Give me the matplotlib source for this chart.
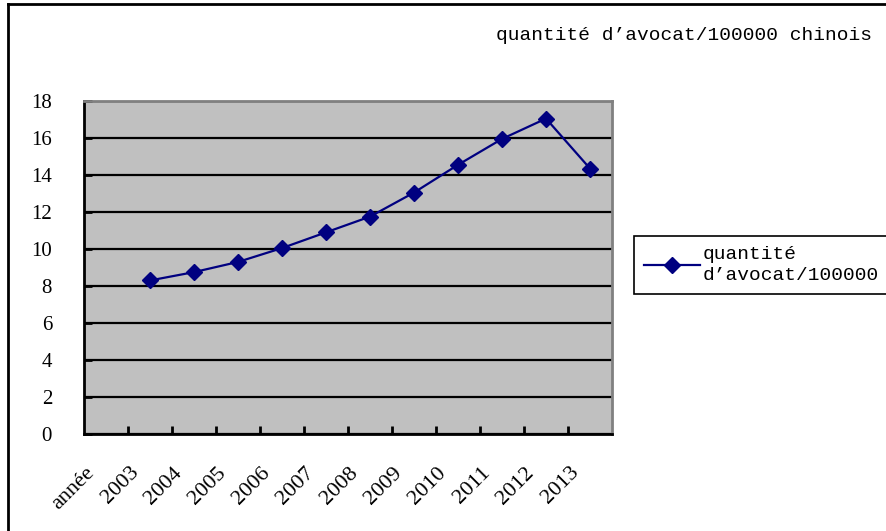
import numpy as np
import matplotlib.pyplot as plt
from matplotlib.transforms import ScaledTranslation
from matplotlib.lines import Line2D

# Données
categories = ['année', '2003', '2004', '2005', '2006', '2007', '2008',
              '2009', '2010', '2011', '2012', '2013']
annees = ['2003', '2004', '2005', '2006', '2007', '2008',
          '2009', '2010', '2011', '2012', '2013']
quantite = [8.3, 8.75, 9.3, 10.05, 10.9, 11.75, 13.05, 14.55, 15.95, 17.05, 14.35]

titre = 'quantité d’avocat/100000 chinois'
legende = 'quantité\nd’avocat/100000'

serif = ['Liberation Serif', 'DejaVu Serif']
mono = ['Liberation Mono', 'DejaVu Sans Mono']

fig = plt.figure(figsize=(8.86, 5.31), dpi=100)
ax = fig.add_axes([84 / 886, 1 - 434 / 531, 528 / 886, 333 / 531])
ax.set_facecolor('#c0c0c0')

# positions des catégories (centres)
x = np.arange(len(categories))
pos = [categories.index(a) for a in annees]
ax.plot(pos, quantite, color='#000080', linewidth=1.6, marker='D',
        markersize=8, markeredgecolor='#000080', markerfacecolor='#000080', zorder=3)

ax.set_xlim(-0.5, len(categories) - 0.5)
ax.set_ylim(0, 18)
ax.set_yticks(np.arange(0, 19, 2))
ax.yaxis.grid(True, color='black', linewidth=1.6)
ax.set_axisbelow(True)

# graduations aux limites des catégories
ax.set_xticks(x[:-1] + 0.5, minor=True)
ax.set_xticks(x)
ax.set_xticklabels(categories, rotation=45, ha='right', rotation_mode='anchor',
                   fontfamily=serif, fontsize=16)
ax.tick_params(axis='x', which='major', length=0, pad=21)
ax.tick_params(axis='x', which='minor', direction='in', length=6, width=2, color='black')
ax.tick_params(axis='y', direction='in', length=6, width=2, pad=23, labelsize=15)
for lab in ax.get_yticklabels():
    lab.set_fontfamily(serif)
decal = ScaledTranslation(-21 / 100, 0, fig.dpi_scale_trans)
for lab in ax.get_xticklabels():
    lab.set_transform(lab.get_transform() + decal)

for s in ['left', 'bottom']:
    ax.spines[s].set_color('black')
    ax.spines[s].set_linewidth(2)
for s in ['top', 'right']:
    ax.spines[s].set_color('#808080')
    ax.spines[s].set_linewidth(2)

fig.text(872 / 886, 1 - 35 / 531, titre, ha='right', va='center',
         fontfamily=mono, fontsize=14)

poignee = Line2D([], [], color='#000080', linewidth=1.6, marker='D',
                 markersize=8, markerfacecolor='#000080')
leg = fig.legend([poignee], [legende], loc='upper left',
                 bbox_to_anchor=(634 / 886, 1 - 236 / 531), borderaxespad=0,
                 prop={'family': mono, 'size': 14}, fancybox=False,
                 edgecolor='black', framealpha=1, handlelength=2.9,
                 handletextpad=0.15, borderpad=0.5, labelspacing=0)
leg.get_frame().set_linewidth(1.2)
for t in leg.get_texts():
    t.set_linespacing(1.35)

# cadre de la figure
fig.add_artist(Line2D([8 / 886, 8 / 886], [0, 1 - 4 / 531], color='black',
                      linewidth=2, transform=fig.transFigure))
fig.add_artist(Line2D([8 / 886, 1], [1 - 4 / 531, 1 - 4 / 531], color='black',
                      linewidth=2, transform=fig.transFigure))

fig.savefig('out.png', dpi=100)
